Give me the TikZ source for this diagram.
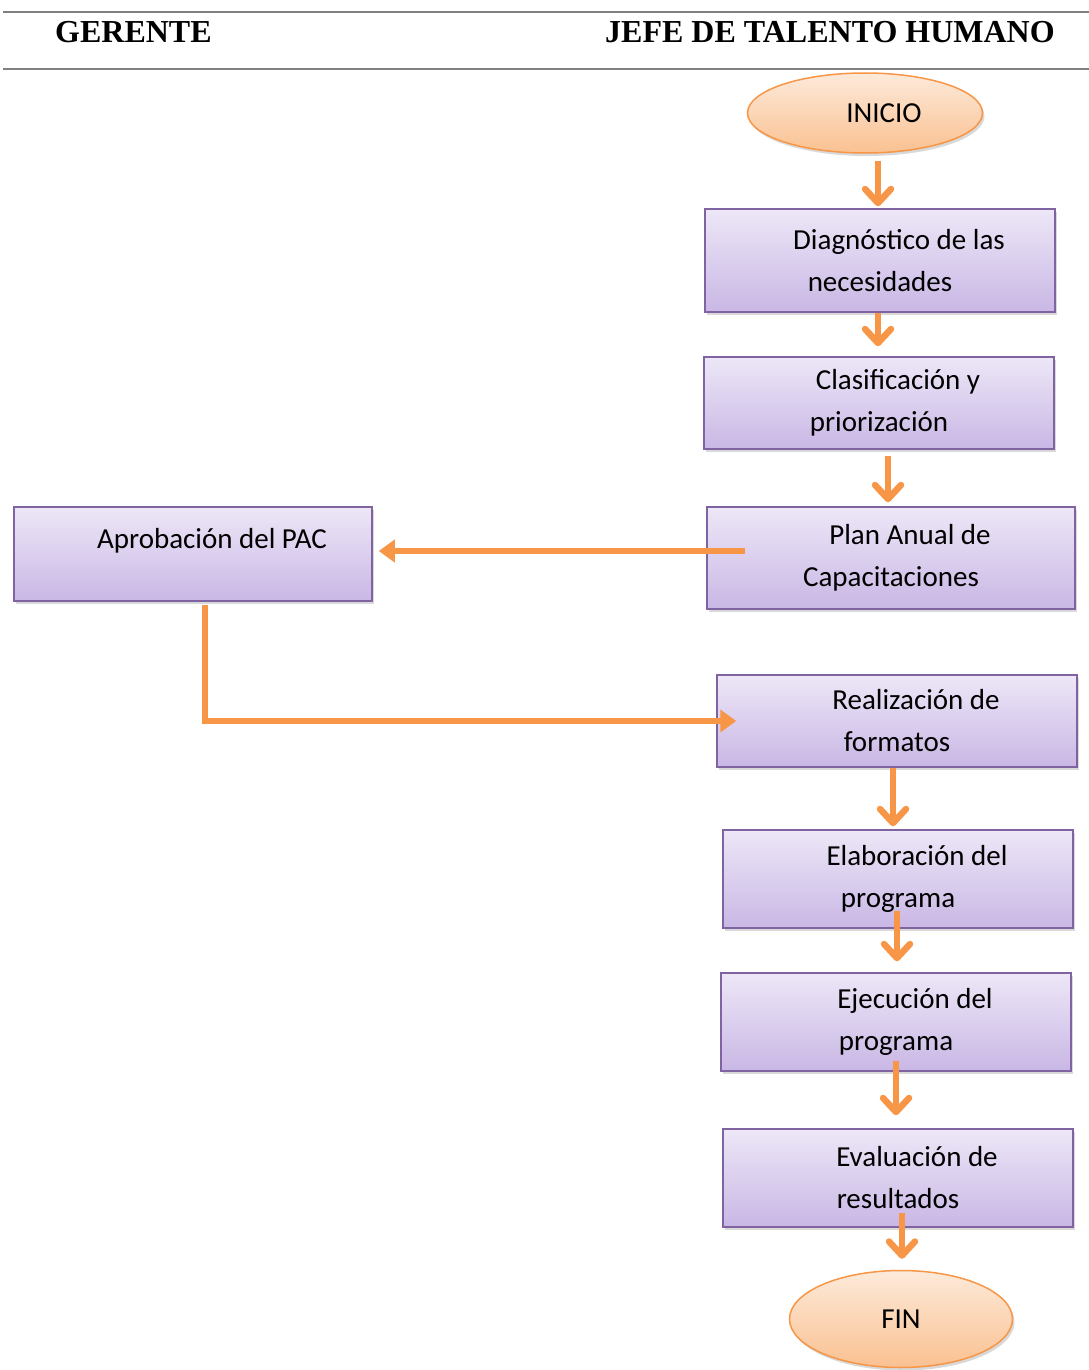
\documentclass[tikz,border=0pt]{standalone}
\usepackage{fontspec}
\setmainfont{Carlito}
\newfontfamily\encabezado{Liberation Serif}
\usetikzlibrary{arrows.meta,shapes.geometric,shadows,calc}
\definecolor{naranja}{RGB}{247,150,70}
\definecolor{lilaborde}{RGB}{128,100,162}
\definecolor{lilaclaro}{RGB}{237,231,247}
\definecolor{lilaoscuro}{RGB}{201,183,229}
\definecolor{durazno}{RGB}{253,234,218}
\definecolor{duraznooscuro}{RGB}{250,193,145}
\definecolor{gris}{RGB}{128,128,128}
\newcommand{\sangria}{\hspace*{38pt}}

\begin{document}
\begin{tikzpicture}[x=1pt,y=-1pt,
    caja/.style={rectangle, draw=lilaborde, line width=1.5pt, top color=lilaclaro, bottom color=lilaoscuro, align=center, inner sep=0pt, font=\fontsize{29}{42}\selectfont, drop shadow={shadow xshift=2pt,shadow yshift=-3pt,opacity=0.3}},
    ovalo/.style={ellipse, draw=naranja, line width=1.5pt, top color=durazno, bottom color=duraznooscuro, inner sep=0pt, font=\fontsize{29}{42}\selectfont, drop shadow={shadow xshift=2pt,shadow yshift=-3pt,opacity=0.3}},
    encab/.style={inner sep=0pt, font=\encabezado\bfseries\fontsize{32}{38}\selectfont},
    flecha/.style={draw=naranja, line width=6.5pt, -{Straight Barb[length=14pt,width=26pt,round]}},
    flechah/.style={draw=naranja, line width=5.5pt, -{Triangle[length=16pt,width=22pt]}}]
    \useasboundingbox (0,0) rectangle (1089,1370);
    \draw[gris, line width=2pt] (3,12) -- (1089,12);
    \draw[gris, line width=2pt] (3,69) -- (1089,69);
    \node[encab, anchor=base west] (gerente) at (55,43) {GERENTE};
    \node[encab, anchor=base west] (jefe) at (605,43) {JEFE DE TALENTO HUMANO};

    \node[ovalo, minimum width=235pt, minimum height=80pt] (inicio) at (865,113) {\sangria INICIO};
    \node[caja, minimum width=350pt, minimum height=103pt] (diag) at (880,260.5) {\sangria Diagnóstico de las\\necesidades};
    \node[caja, minimum width=350pt, minimum height=92pt] (clasif) at (879,403) {\sangria Clasificación y\\priorización};
    \node[caja, minimum width=368pt, minimum height=102pt] (plan) at (891,558) {\sangria Plan Anual de\\Capacitaciones};
    \node[caja, minimum width=358pt, minimum height=94pt, text height=20pt, text depth=32pt] (aprob) at (193,554) {\sangria Aprobación del PAC};
    \node[caja, minimum width=360pt, minimum height=92pt] (realiz) at (897,721) {\sangria Realización de\\formatos};
    \node[caja, minimum width=350pt, minimum height=98pt] (elab) at (898,879) {\sangria Elaboración del\\programa};
    \node[caja, minimum width=350pt, minimum height=98pt] (ejec) at (896,1022) {\sangria Ejecución del\\programa};
    \node[caja, minimum width=350pt, minimum height=98pt] (eval) at (898,1178) {\sangria Evaluación de\\resultados};
    \node[ovalo, minimum width=223pt, minimum height=97pt] (fin) at (901,1319) {FIN};

    \draw[flecha, shorten <=7pt, shorten >=2pt] ([xshift=-2pt]inicio.south -| diag.north) -- ([xshift=-2pt]diag.north);
    \draw[flecha, shorten >=10pt] ([xshift=-2pt]diag.south) -- ([xshift=-1pt]clasif.north);
    \draw[flecha, shorten <=6pt, shorten >=4pt] ([xshift=9pt]clasif.south) -- ([xshift=-3pt]plan.north);
    \coordinate (salida) at ([xshift=39pt,yshift=7pt]plan.west);
    \draw[flechah, shorten >=6pt] (salida) -- (salida -| aprob.east);
    \draw[flechah, shorten <=3pt] ([xshift=12pt]aprob.south) |- ([xshift=20pt]realiz.west);
    \draw[flecha, shorten >=3pt] ([xshift=-4pt]realiz.south) -- ([xshift=-5pt]elab.north);
    \draw[flecha, shorten <=-18pt, shorten >=11pt] ([xshift=-1pt]elab.south) -- ([xshift=1pt]ejec.north);
    \draw[flecha, shorten <=-11pt, shorten >=13pt] (ejec.south) -- ([xshift=-2pt]eval.north);
    \draw[flecha, shorten <=-15pt, shorten >=11pt] ([xshift=4pt]eval.south) -- ([xshift=1pt]fin.north);
\end{tikzpicture}
\end{document}
